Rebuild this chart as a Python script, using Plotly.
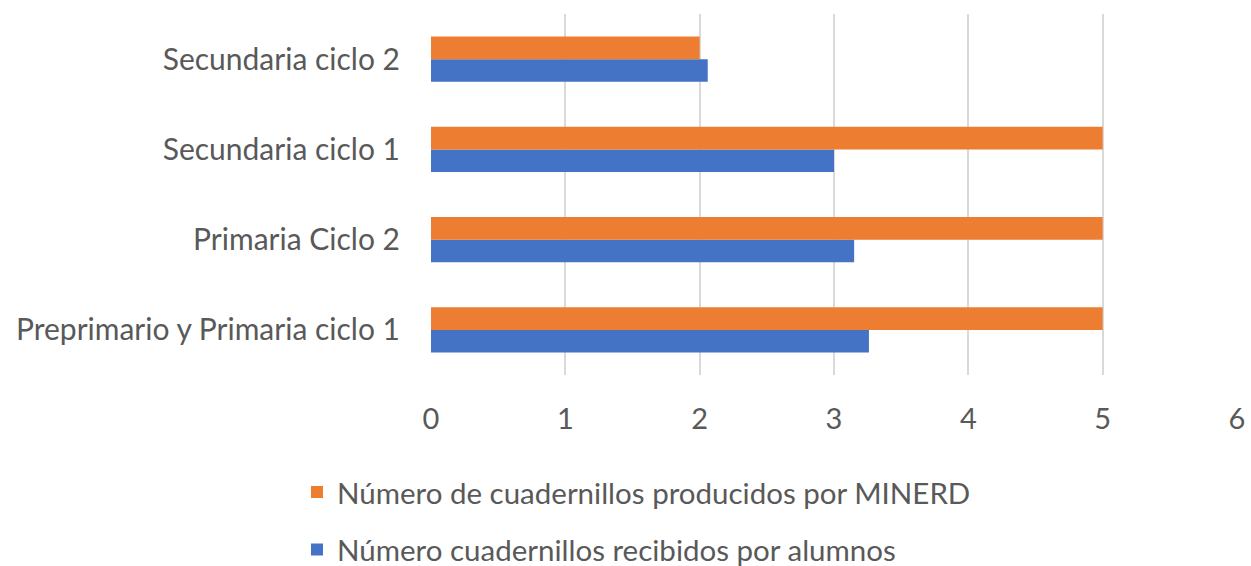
import plotly.graph_objects as go

categories = ["Preprimario y Primaria ciclo 1", "Primaria Ciclo 2", "Secundaria ciclo 1", "Secundaria ciclo 2"]
recibidos = [3.26, 3.15, 3.0, 2.06]
producidos = [5, 5, 5, 2]
name_recibidos = "Número cuadernillos recibidos por alumnos"
name_producidos = "Número de cuadernillos producidos por MINERD"
x_ticks = [0, 1, 2, 3, 4, 5, 6]

FONT = "Lato"
GREY = "#595959"
fig = go.Figure()
fig.add_trace(go.Bar(y=categories, x=recibidos, orientation="h", name=name_recibidos,
                     marker=dict(color="#4472C4", line=dict(width=0)),
                     legendgroup="b", legendrank=2))
fig.add_trace(go.Bar(y=categories, x=producidos, orientation="h", name=name_producidos,
                     marker=dict(color="#ED7D31", line=dict(width=0)),
                     legendgroup="a", legendrank=1))

fig.update_layout(
    width=1251, height=566,
    margin=dict(l=431, r=14, t=14, b=191, autoexpand=False),
    barmode="group", bargap=0.5, bargroupgap=0,
    plot_bgcolor="white", paper_bgcolor="white",
    font=dict(family=FONT, size=29, color=GREY),
    xaxis=dict(range=[0, 6], tickvals=x_ticks, showgrid=True, gridcolor="#d9d9d9", gridwidth=2,
               zeroline=False, showline=False, ticklabelstandoff=24, automargin=False,
               tickfont=dict(size=29, color=GREY)),
    yaxis=dict(showgrid=False, zeroline=False, showline=False, ticklabelstandoff=30,
               automargin=False, tickfont=dict(size=30, color=GREY)),
    legend=dict(x=0.2374, y=0.176, xref="container", yref="container",
                xanchor="left", yanchor="top", orientation="v",
                traceorder="grouped", tracegroupgap=16,
                font=dict(size=29.5, color=GREY), itemwidth=30),
    showlegend=True,
)
fig.write_html("out.html", post_script="document.body.style.margin='0';",
               config={"displayModeBar": False})
